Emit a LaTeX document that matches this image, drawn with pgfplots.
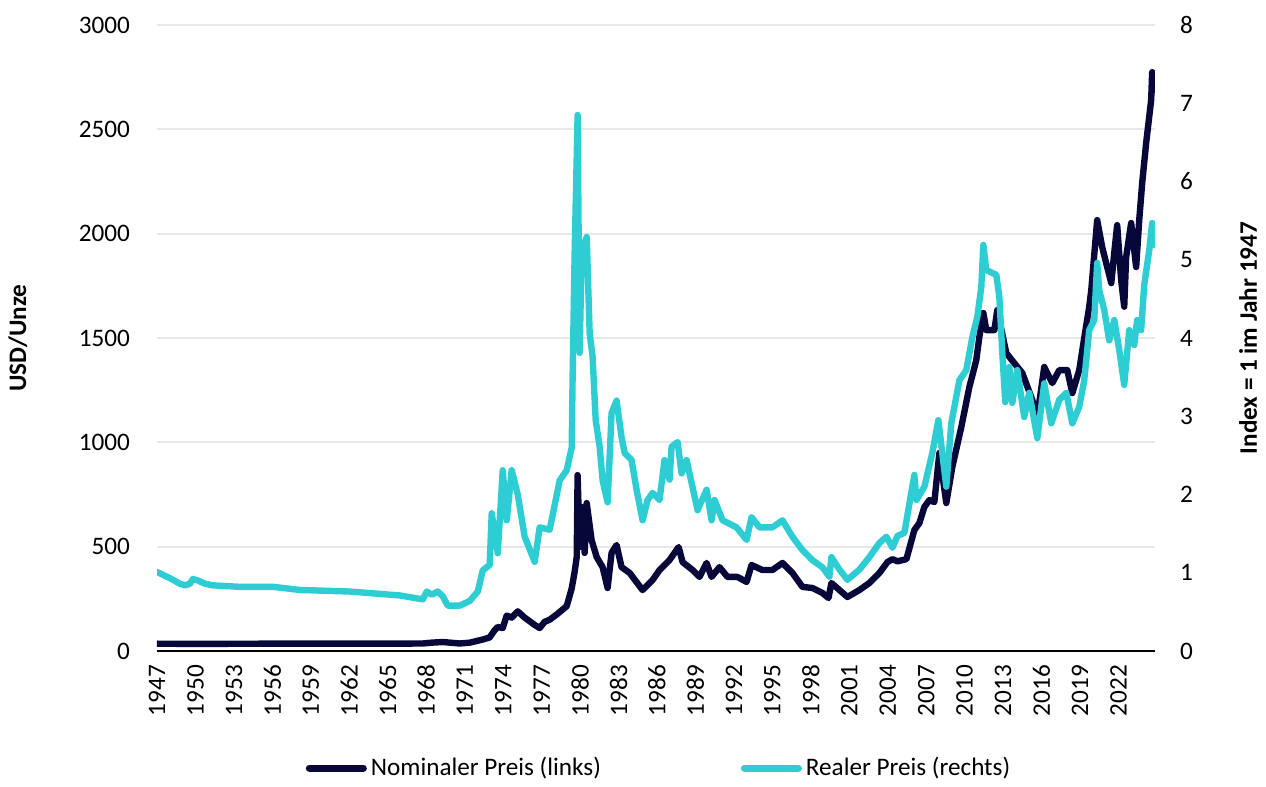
\documentclass[border=0pt]{standalone}
\usepackage{fontspec}
\setmainfont{Carlito}
\usepackage{pgfplots}
\pgfplotsset{compat=1.18}
\definecolor{navy}{RGB}{8,7,58}
\definecolor{cyanc}{RGB}{46,205,211}
\definecolor{gridc}{RGB}{232,232,232}
\begin{document}
\begin{tikzpicture}[font=\fontsize{12.6bp}{15bp}\selectfont]
\pgfplotsset{
  every axis/.append style={
    width=499bp, height=313bp, scale only axis,
    xmin=1947, xmax=2024.85,
    major tick length=0pt,
    /pgf/number format/1000 sep={},
    /pgf/number format/assume math mode=true,
    tick label style={font=\fontsize{12.6bp}{15bp}\selectfont},
    label style={font=\fontsize{12.6bp}{15bp}\selectfont\bfseries},
  }
}
\begin{axis}[
  name=ax,
  ymin=0, ymax=3000,
  ytick={0,500,...,3000},
  xtick={1947,1950,...,2022},
  xticklabel style={rotate=90, anchor=east},
  xticklabel shift=3.5bp,
  yticklabel shift=10bp,
  axis x line*=bottom, axis y line*=left,
  y axis line style={draw=none},
  x axis line style={black, line width=1bp, -},
  ymajorgrids, major grid style={gridc, line width=1bp},
  ylabel={USD/Unze},
  ylabel style={at={(axis description cs:-0.1393,0.5)}, anchor=center},
]
\addplot[navy, line width=3.2bp, line join=round, line cap=round] table {
1947.00 35
1950.00 34
1955.00 35
1960.00 35
1965.00 35
1967.73 36
1968.43 40
1969.29 43
1970.62 36
1971.40 40
1972.41 55
1972.95 65
1973.34 100
1973.58 115
1973.97 110
1974.28 170
1974.67 160
1975.14 190
1975.68 160
1976.46 125
1976.85 110
1977.24 140
1977.63 150
1978.18 175
1978.96 215
1979.35 300
1979.58 380
1979.74 450
1979.81 843
1979.97 498
1980.13 690
1980.36 470
1980.52 709
1980.90 532
1981.30 450
1981.76 402
1982.15 302
1982.46 470
1982.85 508
1983.24 402
1983.87 374
1984.88 292
1985.66 340
1986.20 388
1986.98 436
1987.69 498
1988.00 426
1988.78 388
1989.32 355
1989.87 422
1990.26 355
1990.88 402
1991.50 355
1992.28 355
1992.99 331
1993.38 412
1994.23 388
1995.01 388
1995.79 422
1996.57 374
1997.35 307
1998.13 302
1998.91 278
1999.38 254
1999.61 326
2000.24 292
2000.86 259
2001.79 292
2002.57 326
2003.35 374
2003.98 426
2004.37 440
2004.76 430
2005.46 440
2005.93 546
2006.08 580
2006.47 613
2006.86 690
2007.25 723
2007.64 714
2008.03 949
2008.57 709
2009.04 882
2009.74 1073
2010.37 1265
2010.91 1394
2011.15 1505
2011.46 1620
2011.69 1538
2012.32 1538
2012.55 1634
2013.25 1428
2013.87 1380
2014.50 1332
2015.28 1203
2015.67 1121
2016.21 1361
2016.84 1284
2017.38 1346
2018.01 1346
2018.40 1236
2018.94 1346
2019.33 1500
2019.72 1650
2019.88 1730
2020.34 2065
2020.73 1936
2021.12 1840
2021.44 1763
2021.67 1907
2021.90 2041
2022.21 1778
2022.45 1650
2022.60 1888
2022.99 2051
2023.38 1840
2023.62 2065
2023.85 2242
2024.16 2434
2024.55 2640
2024.63 2774
2024.79 2690
};
\end{axis}
\begin{axis}[
  ymin=0, ymax=8,
  ytick={0,1,...,8},
  axis y line*=right, axis x line=none,
  y axis line style={draw=none},
  yticklabel shift=9bp,
  ylabel={Index = 1 im Jahr 1947},
  ylabel style={at={(axis description cs:1.0932,0.5)}, anchor=center, rotate=0},
  legend columns=2,
  legend style={draw=none, fill=none, at={(axis description cs:0.504,-0.187)}, anchor=center,
    font=\fontsize{12.6bp}{15bp}\selectfont,
    /tikz/every even column/.append style={column sep=68bp}},
  legend image code/.code={\draw[line width=3.5bp, line cap=round, #1] (0bp,0bp) -- (27bp,0bp);},
]
\addlegendimage{navy}
\addlegendentry{Nominaler Preis (links)}
\addplot[cyanc, line width=3.2bp, line join=round, line cap=round] table {
1947.00 1.01
1948.01 0.93
1948.79 0.86
1949.18 0.84
1949.57 0.86
1949.81 0.92
1950.20 0.90
1950.74 0.86
1951.29 0.84
1953.47 0.82
1956.04 0.82
1958.15 0.78
1962.04 0.76
1965.94 0.71
1967.73 0.66
1968.04 0.76
1968.43 0.72
1968.90 0.76
1969.29 0.70
1969.68 0.58
1970.62 0.58
1971.40 0.64
1972.02 0.76
1972.41 1.03
1972.95 1.10
1973.11 1.76
1973.58 1.25
1973.97 2.31
1974.28 1.67
1974.67 2.31
1975.14 2.00
1975.68 1.46
1976.46 1.14
1976.85 1.58
1977.63 1.55
1978.41 2.18
1978.96 2.31
1979.35 2.60
1979.42 3.50
1979.58 5.09
1979.81 6.85
1979.97 3.81
1980.13 5.12
1980.52 5.29
1980.75 4.06
1980.98 3.76
1981.22 2.95
1981.53 2.61
1981.76 2.18
1982.15 1.90
1982.46 3.04
1982.85 3.20
1983.24 2.73
1983.48 2.53
1984.02 2.44
1984.41 2.06
1984.88 1.67
1985.27 1.93
1985.66 2.02
1986.20 1.93
1986.59 2.44
1986.98 2.19
1987.14 2.61
1987.61 2.67
1987.92 2.27
1988.31 2.44
1989.17 1.80
1989.87 2.06
1990.26 1.67
1990.49 1.93
1991.12 1.67
1992.21 1.58
1992.99 1.42
1993.38 1.71
1994.00 1.58
1995.01 1.58
1995.79 1.67
1996.57 1.46
1997.35 1.29
1998.13 1.16
1998.91 1.07
1999.45 0.95
1999.61 1.20
2000.24 1.04
2000.86 0.91
2001.79 1.04
2002.57 1.20
2003.35 1.38
2003.90 1.46
2004.37 1.32
2004.76 1.47
2005.30 1.51
2006.08 2.25
2006.24 1.93
2006.86 2.10
2007.48 2.53
2007.95 2.95
2008.57 2.10
2008.96 2.91
2009.59 3.46
2010.13 3.59
2010.60 4.01
2010.99 4.27
2011.30 4.65
2011.46 5.19
2011.69 4.87
2012.16 4.83
2012.47 4.81
2012.71 4.52
2012.94 3.81
2013.17 3.18
2013.49 3.63
2013.72 3.17
2014.11 3.59
2014.65 2.99
2015.04 3.30
2015.67 2.72
2016.21 3.42
2016.76 2.91
2017.38 3.21
2017.93 3.30
2018.40 2.91
2018.94 3.12
2019.33 3.46
2019.72 4.10
2020.11 4.23
2020.34 4.96
2020.50 4.61
2020.89 4.36
2021.28 3.97
2021.67 4.23
2022.06 3.85
2022.45 3.40
2022.84 4.10
2023.23 3.91
2023.46 4.23
2023.77 4.10
2024.01 4.68
2024.40 5.12
2024.63 5.47
2024.79 5.19
};
\addlegendentry{Realer Preis (rechts)}
\end{axis}
\path (ax.south west) ++(-78.5bp,-65bp) rectangle ++(633bp,390.5bp);
\end{tikzpicture}
\end{document}
